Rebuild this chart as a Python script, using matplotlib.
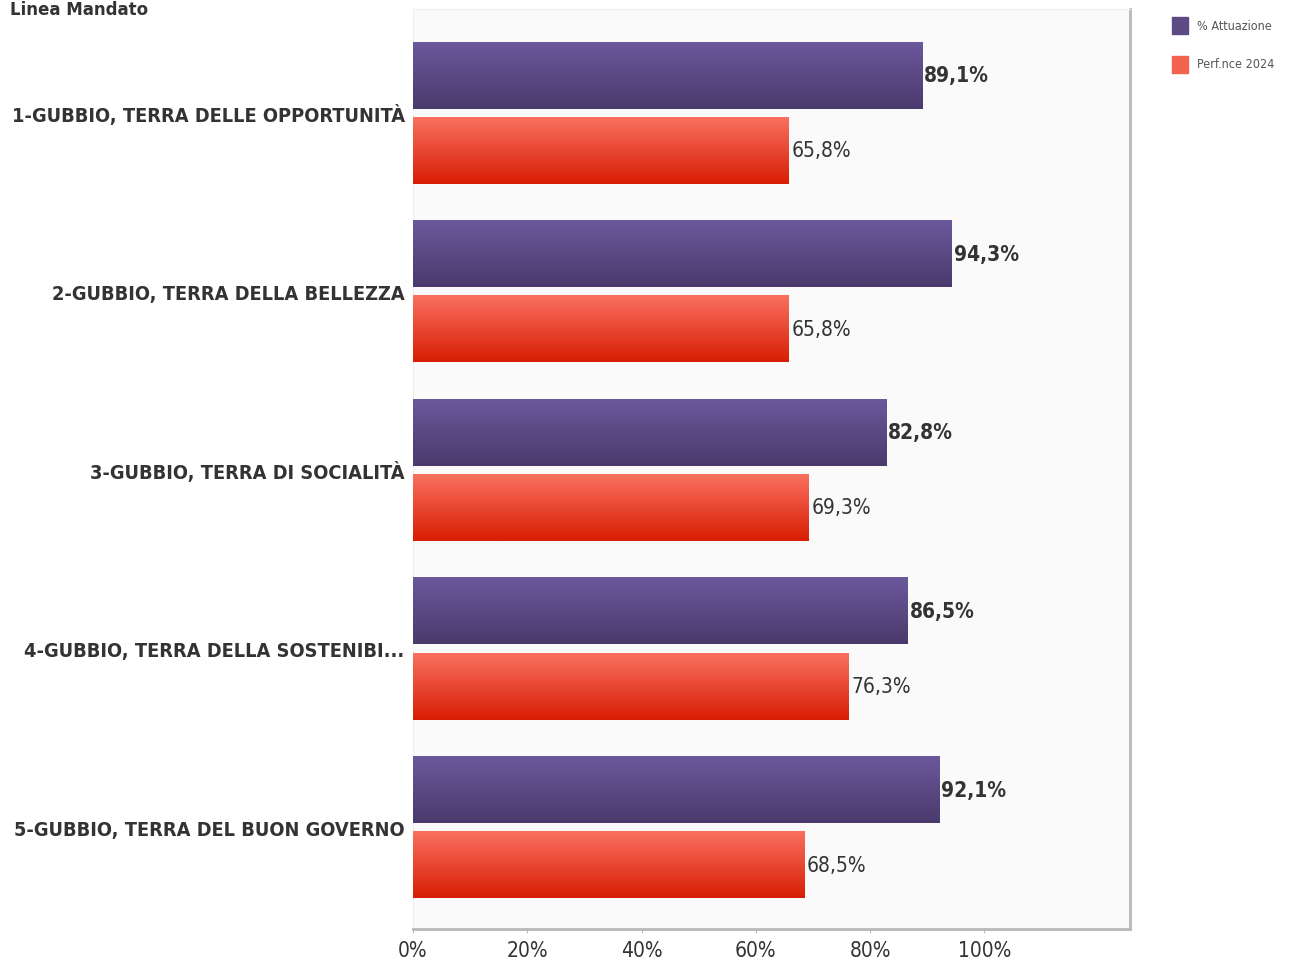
import numpy as np
import matplotlib
matplotlib.use("Agg")
import matplotlib.pyplot as plt
from matplotlib.colors import LinearSegmentedColormap
from matplotlib.patches import Rectangle

categories = ["1-GUBBIO, TERRA DELLE OPPORTUNITÀ",
              "2-GUBBIO, TERRA DELLA BELLEZZA",
              "3-GUBBIO, TERRA DI SOCIALITÀ",
              "4-GUBBIO, TERRA DELLA SOSTENIBI...",
              "5-GUBBIO, TERRA DEL BUON GOVERNO"]
attuazione = [89.1, 94.3, 82.8, 86.5, 92.1]
perf2024 = [65.8, 65.8, 69.3, 76.3, 68.5]
series_names = ["% Attuazione", "Perf.nce 2024"]
xticks = [0, 20, 40, 60, 80, 100]

fig = plt.figure(figsize=(12.91, 9.62), dpi=100)
ax = fig.add_axes([0.3199, 0.0333, 0.8753 - 0.3199, 0.9896 - 0.0333])
ax.set_facecolor("#fafafa")

cm_purple = LinearSegmentedColormap.from_list("p", ["#6b589c", "#4a3a6c"])
cm_red = LinearSegmentedColormap.from_list("r", ["#f9705f", "#d81e04"])

y = np.arange(len(categories))
h = 0.375
off = 0.21
b1 = ax.barh(y - off, attuazione, height=h, color="#5c4a85", zorder=2)
b2 = ax.barh(y + off, perf2024, height=h, color="#ec4a35", zorder=2)

grad = np.linspace(0, 1, 64).reshape(-1, 1)
for bars, cm in ((b1, cm_purple), (b2, cm_red)):
    for r in bars:
        x0, y0 = r.get_x(), r.get_y()
        w, hh = r.get_width(), r.get_height()
        ax.imshow(grad, cmap=cm, aspect="auto", extent=(x0, x0 + w, y0 + hh, y0),
                  origin="upper", zorder=3, interpolation="bilinear")
        r.set_visible(False)

for r, v in zip(b1, attuazione):
    ax.text(v + 0.4, r.get_y() + r.get_height() / 2, f"{v:.1f}%".replace(".", ","),
            va="center", ha="left", fontsize=15, fontweight="bold", color="#333333",
            fontstretch="condensed", zorder=4)
for r, v in zip(b2, perf2024):
    ax.text(v + 0.4, r.get_y() + r.get_height() / 2, f"{v:.1f}%".replace(".", ","),
            va="center", ha="left", fontsize=15, color="#333333",
            fontstretch="condensed", zorder=4)

ax.set_xlim(0, 125.5)
ax.set_ylim(len(categories) - 1 + 0.57, -0.58)
ax.set_yticks(y)
ax.set_yticklabels(categories, fontsize=14.3, fontweight="bold", color="#333333",
                   fontstretch="condensed")
ax.tick_params(axis="y", length=0, pad=6)
ax.set_xticks(xticks)
ax.set_xticklabels([f"{t}%" for t in xticks], fontsize=15, color="#333333",
                   fontstretch="condensed")
ax.tick_params(axis="x", length=3, color="#bbbbbb", pad=5)

for s in ("top", "left"):
    ax.spines[s].set_color("#eeeeee")
    ax.spines[s].set_linewidth(0.8)
for s in ("right", "bottom"):
    ax.spines[s].set_color("#b8b8b8")
    ax.spines[s].set_linewidth(2.0)

fig.text(0.008, 0.999, "Linea Mandato", fontsize=12, fontweight="bold", color="#333333",
         va="top", ha="left")

# legend
colors = ["#5c4a85", "#f26450"]
for i, (name, c) in enumerate(zip(series_names, colors)):
    yy = 1 - (26 + 39 * i) / 962
    fig.patches.append(Rectangle((1172 / 1291, yy - 8.5 / 962), 16 / 1291, 17 / 962,
                                 transform=fig.transFigure, color=c))
    fig.text(1197 / 1291, yy, name, fontsize=9, color="#555555", va="center", ha="left",
             fontstretch="condensed")

fig.savefig("out.png", dpi=100, facecolor="white")
